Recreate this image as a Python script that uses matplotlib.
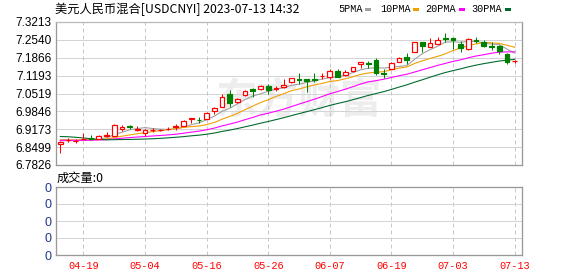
import matplotlib
matplotlib.use("Agg")
import matplotlib.pyplot as plt
from matplotlib.patches import Rectangle
import numpy as np
import pandas as pd

# ---------------- data ----------------
dates = ["04-14", "04-17", "04-18", "04-19", "04-20", "04-21", "04-24", "04-25", "04-26", "04-27",
         "04-28", "05-04", "05-05", "05-08", "05-09", "05-10", "05-11", "05-12", "05-15", "05-16",
         "05-17", "05-18", "05-19", "05-22", "05-23", "05-24", "05-25", "05-26", "05-29", "05-30",
         "05-31", "06-01", "06-02", "06-05", "06-06", "06-07", "06-08", "06-09", "06-12", "06-13",
         "06-14", "06-15", "06-16", "06-19", "06-20", "06-21", "06-26", "06-27", "06-28", "06-29",
         "06-30", "07-03", "07-04", "07-05", "07-06", "07-07", "07-10", "07-11", "07-12", "07-13"]

open_ = [6.8605, 6.8765, 6.8728, 6.8812, 6.8856, 6.8818, 6.8906, 6.8931, 6.9195, 6.9308,
         6.9157, 6.9044, 6.9132, 6.9138, 6.9170, 6.9258, 6.9308, 6.9547, 6.9534, 6.9572,
         6.9861, 7.0024, 7.0501, 7.0200, 7.0464, 7.0677, 7.0702, 7.0803, 7.0702, 7.0777,
         7.0941, 7.1066, 7.1053, 7.1053, 7.1167, 7.1129, 7.1355, 7.1204, 7.1355, 7.1644,
         7.1669, 7.1782, 7.1292, 7.1443, 7.1719, 7.1895, 7.2095, 7.2447, 7.2284, 7.2384,
         7.2598, 7.2610, 7.2384, 7.2183, 7.2547, 7.2447, 7.2321, 7.2309, 7.2008, 7.1731]
high = [6.8730, 6.8843, 6.8793, 6.9044, 6.8956, 6.8944, 6.9057, 6.9371, 6.9346, 6.9346,
        6.9308, 6.9195, 6.9220, 6.9195, 6.9258, 6.9359, 6.9522, 6.9597, 6.9622, 6.9823,
        7.0024, 7.0514, 7.0652, 7.0363, 7.0652, 7.0715, 7.0853, 7.0865, 7.0803, 7.1054,
        7.1116, 7.1280, 7.1053, 7.1280, 7.1305, 7.1443, 7.1430, 7.1405, 7.1531, 7.1719,
        7.1757, 7.1857, 7.1443, 7.1694, 7.1908, 7.2033, 7.2472, 7.2472, 7.2623, 7.2661,
        7.2786, 7.2610, 7.2497, 7.2598, 7.2635, 7.2535, 7.2447, 7.2347, 7.2033, 7.1794]
low = [6.8291, 6.8680, 6.8642, 6.8793, 6.8793, 6.8806, 6.8893, 6.8919, 6.9120, 6.9170,
       6.9120, 6.8919, 6.9069, 6.9107, 6.9145, 6.9145, 6.9296, 6.9421, 6.9396, 6.9560,
       6.9735, 7.0011, 7.0024, 7.0175, 7.0426, 7.0401, 7.0652, 7.0489, 7.0627, 7.0740,
       7.0928, 7.0865, 7.0589, 7.0966, 7.1053, 7.1079, 7.1141, 7.1179, 7.1343, 7.1468,
       7.1468, 7.1217, 7.1091, 7.1430, 7.1694, 7.1631, 7.2083, 7.2095, 7.2271, 7.2372,
       7.2447, 7.2196, 7.2095, 7.2171, 7.2409, 7.2259, 7.2158, 7.2020, 7.1643, 7.1681]
close = [6.8705, 6.8770, 6.8732, 6.8822, 6.8806, 6.8919, 6.8969, 6.9333, 6.9270, 6.9245,
         6.9182, 6.9145, 6.9157, 6.9151, 6.9195, 6.9283, 6.9484, 6.9597, 6.9509, 6.9773,
         6.9974, 7.0388, 7.0175, 7.0325, 7.0602, 7.0627, 7.0815, 7.0652, 7.0740, 7.0828,
         7.1091, 7.1028, 7.1003, 7.1016, 7.1192, 7.1355, 7.1154, 7.1330, 7.1506, 7.1719,
         7.1631, 7.1280, 7.1255, 7.1656, 7.1870, 7.1794, 7.2447, 7.2321, 7.2409, 7.2522,
         7.2573, 7.2522, 7.2221, 7.2573, 7.2510, 7.2321, 7.2284, 7.2133, 7.1719, 7.1756]

# moving-average values at the start of the window (read from the picture,
# they depend on sessions before the first candle)
ma5_head = [6.8737, 6.8742, 6.8739, 6.8755]
ma10_head = [6.8773, 6.8772, 6.8767, 6.8771, 6.8774, 6.8787, 6.8806, 6.8862, 6.8911]
ma20_head = [6.8757, 6.8758, 6.8756, 6.8759, 6.8762, 6.8770, 6.8780, 6.8809, 6.8834, 6.8859,
             6.8880, 6.8899, 6.8919, 6.8938, 6.8960, 6.8986, 6.9022, 6.9064, 6.9102]
ma30_head = [6.8900, 6.8890, 6.8870, 6.8845, 6.8815, 6.8790, 6.8775, 6.8780, 6.8785, 6.8790,
             6.8795, 6.8805, 6.8815, 6.8830, 6.8850, 6.8870, 6.8895, 6.8925, 6.8950, 6.8985,
             6.9030, 6.9090, 6.9140, 6.9200, 6.9265, 6.9330, 6.9400, 6.9465, 6.9535]

ytick_labels = ["7.3213", "7.2540", "7.1866", "7.1193", "7.0519", "6.9846", "6.9173", "6.8499", "6.7826"]
xtick_labels = ["04-19", "05-04", "05-16", "05-26", "06-07", "06-19", "07-03", "07-13"]
title = "美元人民币混合[USDCNYI] 2023-07-13 14:32"
legend_names = ["5PMA", "10PMA", "20PMA", "30PMA"]
volume_label = "成交量:0"

# ---------------- derived ----------------
cs = pd.Series(close)
def ma(n, head):
    m = cs.rolling(n).mean().to_numpy()
    m[:len(head)] = head
    return m
mas = [ma(5, ma5_head), ma(10, ma10_head), ma(20, ma20_head), ma(30, ma30_head)]
ma_colors = ["#a0a0a0", "#f0a000", "#ff00ff", "#006a2e"]

RED = "#ff0000"
GREEN = "#008000"
GRID = "#d4d4d4"
SPINE = "#999999"
PX = 0.72
MONO = ["Liberation Mono", "DejaVu Sans Mono"]

plt.rcParams['font.family'] = ['Liberation Sans', 'Noto Sans CJK SC', 'DejaVu Sans']

W, H = 578, 276
fig = plt.figure(figsize=(W / 100, H / 100), dpi=100)
fig.patch.set_facecolor("white")

def fx(px):
    return px / W
def fy(py):
    return 1 - py / H

ax = fig.add_axes([fx(56), fy(165), fx(522) - fx(56), fy(22) - fy(165)])
axv = fig.add_axes([fx(56), fy(255), fx(522) - fx(56), fy(187) - fy(255)])

x = np.arange(len(dates))
xlim = (-0.56, 59.96)
ymin, ymax = float(ytick_labels[-1]), float(ytick_labels[0])

# watermark
ax.text(0.52, 0.45, "东方财富", transform=ax.transAxes, fontsize=30, color="#ededed",
        ha="center", va="center", fontweight="bold", family=["Noto Sans CJK SC"], zorder=0)

# grid
yt = [float(s) for s in ytick_labels]
for v in yt:
    ax.axhline(v, color=GRID, lw=PX, zorder=1)
xt = [dates.index(d) for d in xtick_labels]
for p in xt:
    ax.axvline(p, color="#c8c8c8", lw=PX, ls=(0, (4, 3)), zorder=1)
    axv.axvline(p, color="#c8c8c8", lw=PX, ls=(0, (4, 3)), zorder=1)
for v in [0.25, 0.5, 0.75]:
    axv.axhline(v, color=GRID, lw=PX, zorder=1)

# candles
bw = 0.62
for i in range(len(dates)):
    o, h, l, c = open_[i], high[i], low[i], close[i]
    up = c >= o
    col = RED if up else GREEN
    ax.vlines(x[i], l, h, color=col, lw=PX, zorder=3)
    bot = min(o, c)
    hgt = max(abs(c - o), 0.0004)
    ax.add_patch(Rectangle((x[i] - bw / 2, bot), bw, hgt,
                           facecolor="white" if up else GREEN, edgecolor=col,
                           lw=PX * 1.2, zorder=4))

# moving averages
for m, col in zip(mas, ma_colors):
    ax.plot(x, m, color=col, lw=PX * 1.1, zorder=2.5)

ax.set_xlim(*xlim)
ax.set_ylim(ymin, ymax)
ax.set_yticks(yt)
ax.set_yticklabels(ytick_labels)
ax.set_xticks([])
ax.tick_params(axis="y", length=0, pad=3, labelsize=8.5, colors="black")
for s in ax.spines.values():
    s.set_color(SPINE)
    s.set_linewidth(PX * 1.3)
ax.spines["top"].set_color("#bbbbbb")

axv.set_xlim(*xlim)
axv.set_ylim(0, 1)
axv.set_yticks([0, 0.25, 0.5, 0.75, 1])
axv.set_yticklabels(["0"] * 5)
axv.set_xticks(xt)
axv.set_xticklabels(xtick_labels, family=MONO, fontsize=7.4)
axv.tick_params(axis="y", length=0, pad=3, labelsize=9, colors="#1f3a8c")
axv.tick_params(axis="x", length=0, pad=4, colors=RED)
for s in axv.spines.values():
    s.set_color(SPINE)
    s.set_linewidth(PX * 1.3)

# title and legend
fig.text(fx(55), fy(9), title, fontsize=8.8, va="center", ha="left", color="black",
         family=["Noto Sans CJK SC", "DejaVu Sans"])
leg_x = [338, 380, 425, 471]
mark_x = [365, 413, 459, 505]
for name, lx, mx, col in zip(legend_names, leg_x, mark_x, ma_colors):
    fig.text(fx(lx), fy(9), name, fontsize=7.3, va="center", ha="left", color="black",
             family=MONO)
    fig.patches.append(Rectangle((fx(mx), fy(11)), fx(6), fy(8) - fy(11),
                                 transform=fig.transFigure, facecolor=col, edgecolor="none"))

fig.text(fx(57), fy(178), volume_label, fontsize=8.8, va="center", ha="left", color="black",
         family=["Noto Sans CJK SC", "DejaVu Sans"])

fig.savefig("out.png", dpi=100, facecolor="white")
